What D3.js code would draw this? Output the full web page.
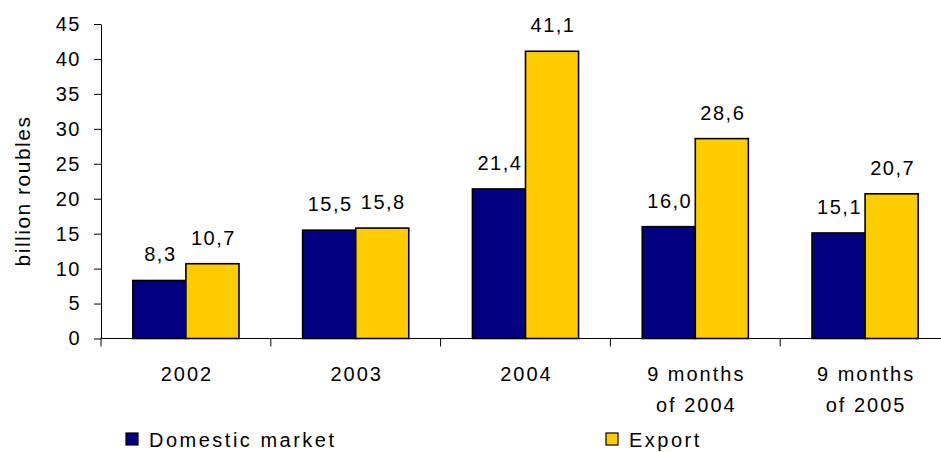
<!DOCTYPE html>
<html>
<head>
<meta charset="utf-8">
<script src="https://cdn.jsdelivr.net/npm/d3@7"></script>
<style>
  html, body { margin: 0; padding: 0; background: #fff; }
  svg { display: block; }
  text { font-family: "Liberation Sans", Arial, sans-serif; fill: #000; }
</style>
</head>
<body>
<svg id="chart" width="941" height="452"></svg>
<script>
const categories = [["2002"], ["2003"], ["2004"], ["9 months", "of 2004"], ["9 months", "of 2005"]];
const seriesNames = ["Domestic market", "Export"];
const domesticValues = [8.3, 15.5, 21.4, 16.0, 15.1];
const exportValues = [10.7, 15.8, 41.1, 28.6, 20.7];
const yTicks = [0, 5, 10, 15, 20, 25, 30, 35, 40, 45];
const colors = ["#000080", "#FFCC00"];

const svg = d3.select("#chart");
const catKeys = categories.map(c => c.join(" "));
const x0 = d3.scaleBand().domain(catKeys).range([101, 950]).paddingInner(0).paddingOuter(0);
const x1 = d3.scaleBand().domain(seriesNames).range([0, x0.bandwidth()]).paddingInner(0).paddingOuter(0.6);
const y = d3.scaleLinear().domain([0, 45]).range([338.5, 24]);
const fmt = d3.formatLocale({decimal: ",", thousands: " ", grouping: [3], currency: ["", ""]}).format(".1f");

const data = catKeys.map((k, i) => ({key: k, vals: [domesticValues[i], exportValues[i]]}));

// Y axis
const yAxis = d3.axisLeft(y).tickValues(yTicks).tickSizeOuter(0).tickSizeInner(7).tickPadding(13).tickFormat(d3.format("d"));
const gy = svg.append("g").attr("transform", "translate(101,0)").call(yAxis);
gy.select(".domain").attr("stroke", "#000").attr("stroke-width", 1);
gy.selectAll(".tick line").attr("stroke", "#000");
gy.selectAll(".tick text").attr("font-size", 20).attr("letter-spacing", "1.5px")
  .attr("font-family", "'Liberation Sans', Arial, sans-serif").attr("fill", "#000");

// Bars
const groups = svg.append("g").selectAll("g").data(data).join("g")
  .attr("transform", d => `translate(${x0(d.key)},0)`);
groups.selectAll("rect").data(d => d.vals.map((v, j) => ({s: seriesNames[j], v, j}))).join("rect")
  .attr("x", d => x1(d.s))
  .attr("y", d => y(d.v))
  .attr("width", x1.bandwidth())
  .attr("height", d => y(0) - y(d.v))
  .attr("fill", d => colors[d.j])
  .attr("stroke", "#000")
  .attr("stroke-width", 1.6);

// Value labels
groups.selectAll("text.val").data(d => d.vals.map((v, j) => ({s: seriesNames[j], v, j}))).join("text")
  .attr("class", "val")
  .attr("x", d => x1(d.s) + x1.bandwidth() / 2 + 1)
  .attr("y", d => y(d.v) - 19)
  .attr("text-anchor", "middle")
  .attr("font-size", 20)
  .attr("letter-spacing", "1.5px")
  .text(d => fmt(d.v));

// X axis line with boundary ticks
const gx = svg.append("g");
gx.append("line").attr("x1", 101).attr("x2", 941).attr("y1", y(0)).attr("y2", y(0)).attr("stroke", "#000");
const bounds = catKeys.map(k => x0(k));
gx.selectAll("line.tk").data(bounds).join("line").attr("class", "tk")
  .attr("x1", d => d).attr("x2", d => d)
  .attr("y1", y(0)).attr("y2", y(0) + 8).attr("stroke", "#000");

// Category labels
const cl = svg.append("g").selectAll("text").data(categories).join("text")
  .attr("text-anchor", "middle")
  .attr("font-size", 20)
  .attr("letter-spacing", "2px")
  .attr("x", (d, i) => x0(catKeys[i]) + x0.bandwidth() / 2 + 1)
  .attr("y", 380.5);
cl.selectAll("tspan").data(d => d).join("tspan")
  .attr("x", function() { return d3.select(this.parentNode).attr("x"); })
  .attr("dy", (d, i) => i === 0 ? 0 : 31)
  .text(d => d);

// Y axis title
svg.append("text")
  .attr("transform", "translate(30,191) rotate(-90)")
  .attr("text-anchor", "middle")
  .attr("font-size", 21)
  .attr("letter-spacing", "1.5px")
  .text("billion roubles");

// Legend
const legendX = [126, 606];
const lg = svg.append("g").selectAll("g").data(seriesNames).join("g")
  .attr("transform", (d, i) => `translate(${legendX[i]},433)`);
lg.append("rect").attr("width", 12).attr("height", 12)
  .attr("fill", (d, i) => colors[i]).attr("stroke", "#000").attr("stroke-width", 1.2);
lg.append("text").attr("x", 23).attr("y", 13.5)
  .attr("font-size", 20).attr("letter-spacing", "2.5px")
  .text(d => d);
</script>
</body>
</html>
